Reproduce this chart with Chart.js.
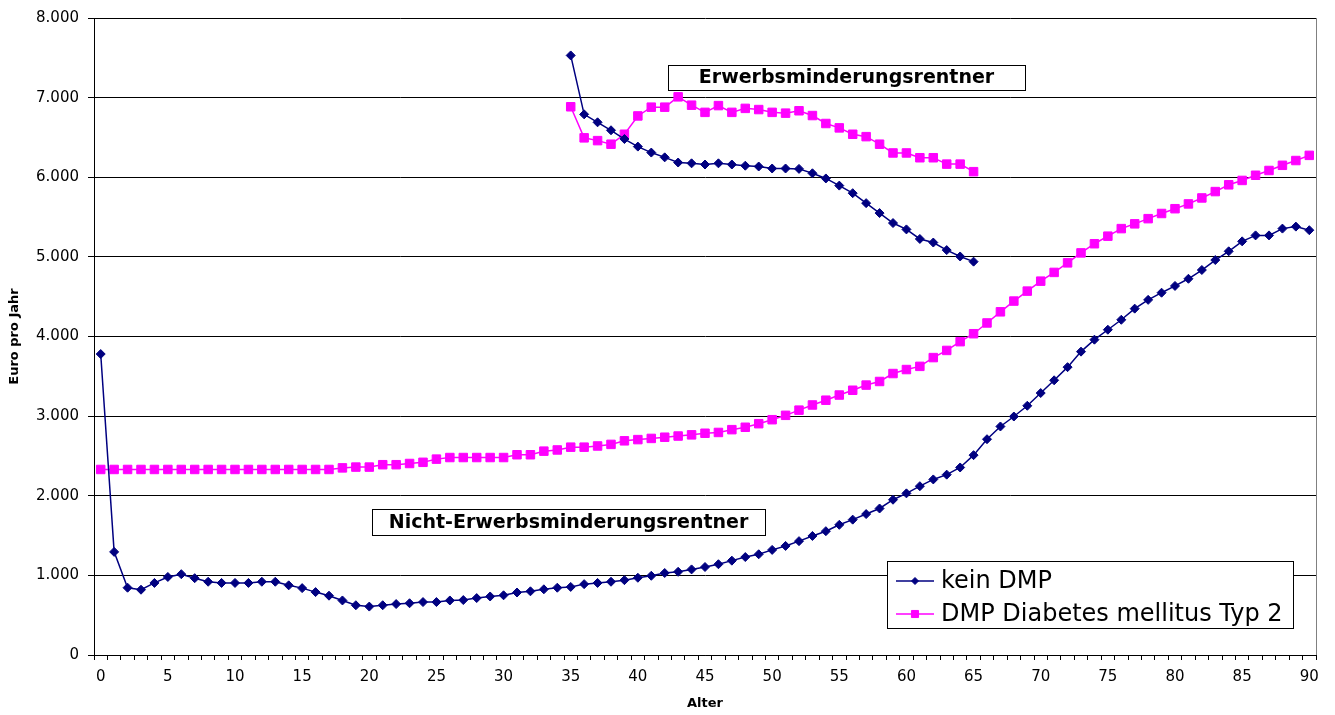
<!DOCTYPE html>
<html>
<head>
<meta charset="utf-8">
<title>Kosten pro Jahr nach Alter</title>
<script src="https://cdn.jsdelivr.net/npm/chart.js@4/dist/chart.umd.min.js"></script>
<style>
  html, body { margin: 0; padding: 0; background: #fff; }
  #wrap { width: 1335px; height: 715px; }
</style>
</head>
<body>
<div id="wrap"><canvas id="myChart" width="1335" height="715"></canvas></div>
<script>
// Alter 0..90
const ages = Array.from({ length: 91 }, (_, i) => String(i))
const yTicks = [0, 1000, 2000, 3000, 4000, 5000, 6000, 7000, 8000]

// Nicht-Erwerbsminderungsrentner, Alter 0..90
const keinDmp = [
  3780, 1295, 845, 820, 905, 980, 1015, 965, 920, 905,
  905, 905, 920, 920, 875, 840, 790, 745, 685, 625,
  608, 625, 640, 650, 665, 665, 685, 690, 715, 735,
  750, 785, 800, 825, 845, 855, 890, 905, 920, 940,
  970, 995, 1030, 1045, 1075, 1105, 1140, 1185, 1230, 1265,
  1320, 1370, 1430, 1495, 1555, 1635, 1700, 1770, 1840, 1950,
  2030, 2120, 2205, 2265, 2355, 2510, 2710, 2870, 2995, 3130,
  3290, 3450, 3615, 3810, 3960, 4085, 4210, 4350, 4460, 4550,
  4635, 4725, 4835, 4960, 5070, 5195, 5270, 5270, 5355, 5380,
  5335
]
const dmpDiabetes = [
  2330, 2330, 2330, 2330, 2330, 2330, 2330, 2330, 2330, 2330,
  2330, 2330, 2330, 2330, 2330, 2330, 2330, 2330, 2350, 2360,
  2360, 2390, 2390, 2405, 2420, 2460, 2480, 2480, 2480, 2480,
  2480, 2515, 2515, 2560, 2575, 2610, 2610, 2625, 2645, 2690,
  2705, 2720, 2735, 2750, 2765, 2785, 2795, 2830, 2860, 2905,
  2955, 3010, 3075, 3140, 3200, 3265, 3325, 3390, 3435, 3535,
  3585, 3625, 3735, 3825, 3935, 4035, 4170, 4310, 4445, 4570,
  4695, 4805, 4925, 5050, 5165, 5260, 5355, 5415, 5480, 5545,
  5605, 5665, 5740, 5820, 5905, 5960, 6025, 6085, 6150, 6210,
  6275
]

// Erwerbsminderungsrentner, Alter 35..65
const emStartAge = 35
const keinDmpEm = [
  7530, 6790, 6690, 6590, 6480, 6385, 6310, 6250, 6185, 6175,
  6160, 6175, 6160, 6145, 6135, 6110, 6110, 6105, 6050, 5985,
  5895, 5800, 5675, 5550, 5425, 5345, 5225, 5180, 5085, 5005,
  4940
]
const dmpDiabetesEm = [
  6885, 6495, 6460, 6415, 6540, 6770, 6880, 6880, 7010, 6905,
  6815, 6900, 6815, 6865, 6850, 6815, 6805, 6835, 6775, 6675,
  6620, 6540, 6510, 6415, 6305, 6305, 6245, 6245, 6165, 6165,
  6070
]

const navy = '#000080'
const magenta = '#FF00FF'
const font = "'DejaVu Sans', sans-serif"

function padEm (values) {
  return ages.map((a, i) => {
    const j = i - emStartAge
    return j >= 0 && j < values.length ? values[j] : null
  })
}

function punkt (v) {
  return String(v).replace(/\B(?=(\d{3})+(?!\d))/g, '.')
}

function lineSet (label, data, color, style, radius) {
  return {
    label: label,
    data: data,
    borderColor: color,
    backgroundColor: color,
    borderWidth: 1.5,
    pointStyle: style,
    pointRadius: radius,
    pointBorderWidth: 1,
    pointBackgroundColor: color,
    pointBorderColor: color,
    spanGaps: false,
    tension: 0
  }
}

// frame on the right side of the plot area
const plotFrame = {
  id: 'plotFrame',
  beforeDatasetsDraw (chart) {
    const { ctx, chartArea } = chart
    ctx.save()
    ctx.strokeStyle = '#808080'
    ctx.lineWidth = 1
    ctx.beginPath()
    ctx.moveTo(Math.round(chartArea.right) + 0.5, chartArea.top)
    ctx.lineTo(Math.round(chartArea.right) + 0.5, chartArea.bottom)
    ctx.stroke()
    ctx.restore()
  }
}

const notes = [
  { text: 'Erwerbsminderungsrentner', x: 668, y: 65, w: 357, h: 25 },
  { text: 'Nicht-Erwerbsminderungsrentner', x: 372, y: 509, w: 393, h: 26 }
]

const textBoxes = {
  id: 'textBoxes',
  afterDraw (chart) {
    const ctx = chart.ctx
    ctx.save()
    notes.forEach(n => {
      ctx.fillStyle = '#fff'
      ctx.fillRect(n.x, n.y, n.w, n.h)
      ctx.strokeStyle = '#000'
      ctx.lineWidth = 1
      ctx.strokeRect(n.x + 0.5, n.y + 0.5, n.w, n.h)
      ctx.fillStyle = '#000'
      ctx.font = 'bold 19px ' + font
      ctx.textAlign = 'center'
      ctx.textBaseline = 'middle'
      ctx.fillText(n.text, n.x + n.w / 2, n.y + n.h / 2 + 1)
    })
    ctx.restore()
  }
}

const boxLegend = {
  id: 'boxLegend',
  afterDraw (chart) {
    const ctx = chart.ctx
    const x = 887
    const y = 561
    const w = 406
    const h = 67
    ctx.save()
    ctx.fillStyle = '#fff'
    ctx.fillRect(x, y, w, h)
    ctx.strokeStyle = '#000'
    ctx.lineWidth = 1
    ctx.strokeRect(x + 0.5, y + 0.5, w, h)
    chart.data.datasets.slice(0, 2).forEach((ds, i) => {
      const cy = y + 20 + i * 33
      ctx.strokeStyle = ds.borderColor
      ctx.lineWidth = 1.5
      ctx.beginPath()
      ctx.moveTo(896, cy)
      ctx.lineTo(934, cy)
      ctx.stroke()
      ctx.fillStyle = ds.borderColor
      ctx.lineWidth = 1
      Chart.helpers.drawPoint(ctx, {
        pointStyle: ds.pointStyle,
        radius: ds.pointRadius - 1,
        borderWidth: 1,
        rotation: 0
      }, 915, cy)
      ctx.fillStyle = '#000'
      ctx.font = '24px ' + font
      ctx.textAlign = 'left'
      ctx.textBaseline = 'middle'
      ctx.fillText(ds.label, 941, cy + 1)
    })
    ctx.restore()
  }
}

const ctx = document.querySelector('#myChart')
const myChart = new Chart(ctx, {
  type: 'line',
  data: {
    labels: ages,
    datasets: [
      lineSet('kein DMP', keinDmp, navy, 'rectRot', 4.5),
      lineSet('DMP Diabetes mellitus Typ 2', dmpDiabetes, magenta, 'rect', 6),
      lineSet('kein DMP (EM)', padEm(keinDmpEm), navy, 'rectRot', 4.5),
      lineSet('DMP Diabetes mellitus Typ 2 (EM)', padEm(dmpDiabetesEm), magenta, 'rect', 6)
    ]
  },
  options: {
    responsive: false,
    animation: false,
    layout: {
      autoPadding: false,
      padding: { top: 16, right: 19, left: 0, bottom: 0 }
    },
    plugins: {
      legend: { display: false },
      tooltip: { enabled: false }
    },
    scales: {
      x: {
        type: 'category',
        offset: true,
        afterFit: (s) => { s.height = 60 },
        grid: {
          offset: true,
          drawOnChartArea: false,
          drawTicks: true,
          tickLength: 5,
          color: '#000'
        },
        border: { color: '#000', width: 1 },
        ticks: {
          autoSkip: false,
          maxRotation: 0,
          padding: 8,
          color: '#000',
          font: { family: font, size: 15 },
          callback: function (value, index) {
            return index % 5 === 0 ? this.getLabelForValue(value) : ''
          }
        },
        title: {
          display: true,
          text: 'Alter',
          color: '#000',
          font: { family: font, size: 13, weight: 'bold' },
          padding: { top: 0, bottom: 4 }
        }
      },
      y: {
        min: 0,
        max: 8000,
        afterFit: (s) => { s.width = 94 },
        afterBuildTicks: (s) => { s.ticks = yTicks.map(v => ({ value: v })) },
        grid: {
          color: '#000',
          lineWidth: 1,
          drawTicks: true,
          tickLength: 6
        },
        border: { color: '#000', width: 1 },
        ticks: {
          padding: 9,
          color: '#000',
          font: { family: font, size: 15 },
          callback: (v) => punkt(v)
        },
        title: {
          display: true,
          text: 'Euro pro Jahr',
          color: '#000',
          font: { family: font, size: 13, weight: 'bold' },
          padding: { top: 7, bottom: 0 }
        }
      }
    }
  },
  plugins: [plotFrame, textBoxes, boxLegend]
})
</script>
</body>
</html>
